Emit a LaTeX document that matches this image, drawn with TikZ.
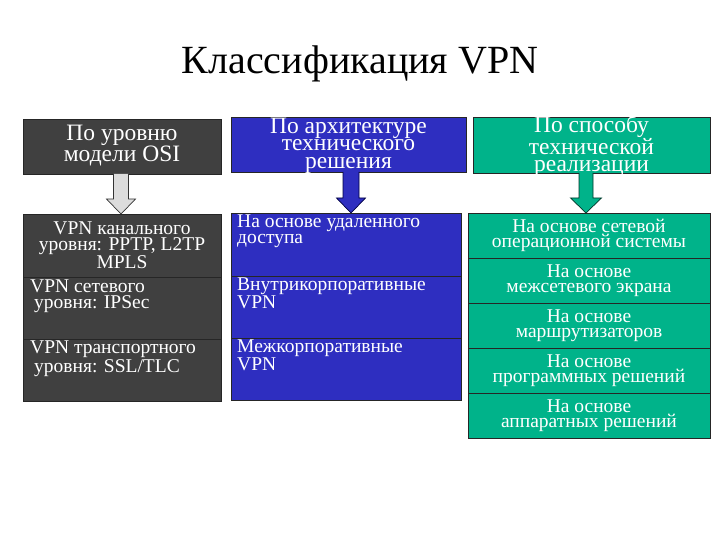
\documentclass[tikz,border=0pt]{standalone}
\usepackage{fontspec}
\setmainfont{Liberation Serif}
\usetikzlibrary{calc}
\definecolor{cgray}{RGB}{64,64,64}
\definecolor{cblue}{RGB}{46,46,192}
\definecolor{cteal}{RGB}{0,179,138}
\definecolor{agray}{RGB}{220,220,220}
\begin{document}
\begin{tikzpicture}[x=1pt,y=-1pt,
  box/.style={draw=black!85, line width=0.7pt, inner sep=0pt, outer sep=0pt, anchor=north west},
  htxt/.style={inner sep=0pt, text=white, align=center, font=\fontsize{23.5}{17.5}\selectfont},
  ctxt/.style={inner sep=0pt, text=white, align=center, font=\fontsize{19.5}{15.5}\selectfont},
  ltxt/.style={anchor=north west, inner sep=0pt, text=white, align=left, font=\fontsize{19.5}{15.5}\selectfont},
  barrow/.style={draw=black!80, line width=0.7pt, line join=miter}]
\useasboundingbox (0,0) rectangle (720,540);

\node[anchor=center, inner sep=0pt, font=\fontsize{40}{44}\selectfont] (title) at (360,64) {Классификация VPN};

% headers
\node[box, fill=cgray, minimum width=198pt, minimum height=55pt] (h1) at (23,119) {};
\node[box, fill=cblue, minimum width=235pt, minimum height=55pt] (h2) at (231,117) {};
\node[box, fill=cteal, minimum width=237pt, minimum height=56pt] (h3) at (473,117) {};
\node[htxt] (h1t) at ($(h1.center)+(0,-1)$) {По уровню\\модели OSI};
\node[htxt] (h2t) at ($(h2.center)+(0,1)$) {По архитектуре\\технического\\решения};
\node[htxt] (h3t) at ($(h3.center)+(0,1)$) {По способу\\технической\\реализации};

% left column
\node[box, fill=cgray, minimum width=198pt, minimum height=63pt] (s11) at (23,214) {};
\node[box, fill=cgray, minimum width=198pt, minimum height=62pt] (s12) at (23,277) {};
\node[box, fill=cgray, minimum width=198pt, minimum height=62pt] (s13) at (23,339) {};
\node[ctxt] (t11) at ($(s11.center)+(0,0)$) {VPN канального\\уровня: PPTP, L2TP\\MPLS};
\node[ltxt] (t12) at ($(s12.north west)+(7,3)$) {VPN сетевого\\\hspace*{4pt}уровня: IPSec};
\node[ltxt] (t13) at ($(s13.north west)+(7,2)$) {VPN транспортного\\\hspace*{4pt}уровня: SSL/TLC};

% middle column
\node[box, fill=cblue, minimum width=230pt, minimum height=63pt] (s21) at (231,213) {};
\node[box, fill=cblue, minimum width=230pt, minimum height=62pt] (s22) at (231,276) {};
\node[box, fill=cblue, minimum width=230pt, minimum height=62pt] (s23) at (231,338) {};
\node[ltxt] (t21) at ($(s21.north west)+(6,2)$) {На основе удаленного\\доступа};
\node[ltxt] (t22) at ($(s22.north west)+(6,2)$) {Внутрикорпоративные\\VPN};
\node[ltxt] (t23) at ($(s23.north west)+(6,2)$) {Межкорпоративные\\VPN};

% right column
\node[box, fill=cteal, minimum width=242pt, minimum height=45pt] (s31) at (468,213) {};
\node[box, fill=cteal, minimum width=242pt, minimum height=45pt] (s32) at (468,258) {};
\node[box, fill=cteal, minimum width=242pt, minimum height=45pt] (s33) at (468,303) {};
\node[box, fill=cteal, minimum width=242pt, minimum height=45pt] (s34) at (468,348) {};
\node[box, fill=cteal, minimum width=242pt, minimum height=45pt] (s35) at (468,393) {};
\node[ctxt] (t31) at (s31.center) {На основе сетевой\\операционной системы};
\node[ctxt] (t32) at (s32.center) {На основе\\межсетевого экрана};
\node[ctxt] (t33) at (s33.center) {На основе\\маршрутизаторов};
\node[ctxt] (t34) at (s34.center) {На основе\\программных решений};
\node[ctxt] (t35) at (s35.center) {На основе\\аппаратных решений};

% block arrows
\coordinate (a1) at (121,0);
\filldraw[barrow, fill=agray]
  (a1 |- h1.south) ++(-7.5,0) -- ++(0,25) -- ++(-7,0) -- ($(a1 |- s11.north)$) -- ($(a1 |- h1.south)+(14.5,25)$) -- ++(-7,0) -- ($(a1 |- h1.south)+(7.5,0)$);
\coordinate (a2) at (351,0);
\filldraw[barrow, fill=cblue, draw=black!75!blue]
  (a2 |- h2.south) ++(-8,0) -- ++(0,26) -- ++(-6.5,0) -- ($(a2 |- s21.north)$) -- ($(a2 |- h2.south)+(14.5,26)$) -- ++(-6.5,0) -- ($(a2 |- h2.south)+(8,0)$);
\coordinate (a3) at (586,0);
\filldraw[barrow, fill=cteal, draw=black!70!cteal]
  (a3 |- h3.south) ++(-7,0) -- ++(0,25) -- ++(-8.5,0) -- ($(a3 |- s31.north)$) -- ($(a3 |- h3.south)+(15.5,25)$) -- ++(-8.5,0) -- ($(a3 |- h3.south)+(7,0)$);
\end{tikzpicture}
\end{document}
